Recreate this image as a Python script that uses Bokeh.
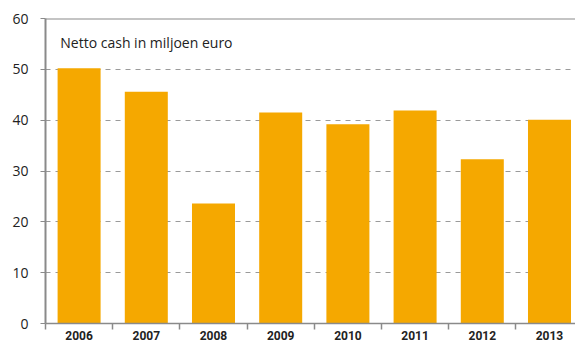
from bokeh.plotting import figure
from bokeh.models import Range1d, FixedTicker, Span, Label, ColumnDataSource
from bokeh.embed import file_html
from bokeh.resources import INLINE

years = ["2006", "2007", "2008", "2009", "2010", "2011", "2012", "2013"]
values = [50.2, 45.6, 23.6, 41.5, 39.2, 41.9, 32.3, 40.1]
y_ticks = [0, 10, 20, 30, 40, 50, 60]
title_text = "Netto cash in miljoen euro"

centers = [i + 0.5 for i in range(len(years))]
bounds = [i for i in range(len(years) + 1)]

src = ColumnDataSource(dict(x=centers, top=values))

p = figure(width=575, height=343, output_backend="svg", toolbar_location=None,
           x_range=Range1d(0, 7.887), y_range=Range1d(0, 60),
           min_border_left=45, min_border_top=18, min_border_bottom=20, min_border_right=0)
p.outline_line_color = None
p.background_fill_color = "white"
p.border_fill_color = "white"

# gridlines
p.xgrid.visible = False
p.ygrid.ticker = FixedTicker(ticks=[10, 20, 30, 40, 50])
p.ygrid.grid_line_color = "#9a9a9a"
p.ygrid.grid_line_dash = "5 5"
p.ygrid.grid_line_width = 1.2

p.vbar(x="x", top="top", width=0.64, bottom=0, source=src, color="#f5a800", line_color=None)

p.add_layout(Span(location=60, dimension="width", line_color="#8a8a8a", line_width=2))

# y axis
p.yaxis.ticker = FixedTicker(ticks=y_ticks)
p.yaxis.axis_line_color = "#8a8a8a"
p.yaxis.axis_line_width = 2
p.yaxis.major_tick_line_color = "#8a8a8a"
p.yaxis.major_tick_out = 5
p.yaxis.major_tick_in = 0
p.yaxis.minor_tick_line_color = None
p.yaxis.major_label_standoff = 12
p.yaxis.major_label_text_font = "Open Sans"
p.yaxis.major_label_text_font_size = "14px"
p.yaxis.major_label_text_color = "#222222"

# x axis
p.xaxis.ticker = FixedTicker(ticks=centers, minor_ticks=bounds)
p.xaxis.major_label_overrides = {c: y for c, y in zip(centers, years)}
p.xaxis.axis_line_color = "#8a8a8a"
p.xaxis.axis_line_width = 1.5
p.xaxis.major_tick_out = 0
p.xaxis.major_tick_in = 0
p.xaxis.major_tick_line_color = None
p.xaxis.minor_tick_line_color = "#8a8a8a"
p.xaxis.minor_tick_out = 6
p.xaxis.minor_tick_in = 0
p.xaxis.minor_tick_line_width = 1.5
p.xaxis.major_label_standoff = 1
p.xaxis.major_label_text_font = "Roboto"
p.xaxis.major_label_text_font_style = "bold"
p.xaxis.major_label_text_font_size = "12px"
p.xaxis.major_label_text_color = "#222222"

p.add_layout(Label(x=0.22, y=55.3, text=title_text, text_font="Open Sans",
                   text_font_size="14px", text_color="#222222", text_baseline="middle"))

open("out.html", "w").write(file_html(p, INLINE))
